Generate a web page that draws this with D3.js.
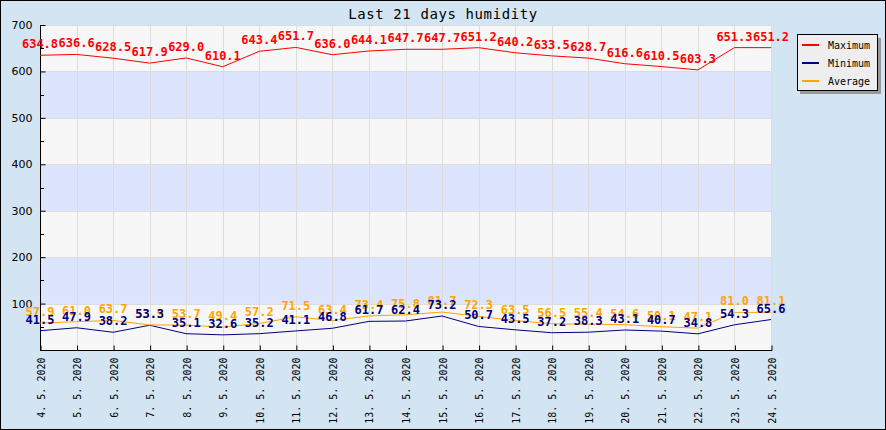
<!DOCTYPE html>
<html><head><meta charset="utf-8">
<script src="https://cdn.jsdelivr.net/npm/d3@7"></script>
<style>body{margin:0;background:#fff}svg{display:block}</style>
</head><body>
<svg id="c" width="886" height="430"></svg>
<script>
const dates = ["4. 5. 2020","5. 5. 2020","6. 5. 2020","7. 5. 2020","8. 5. 2020","9. 5. 2020","10. 5. 2020","11. 5. 2020","12. 5. 2020","13. 5. 2020","14. 5. 2020","15. 5. 2020","16. 5. 2020","17. 5. 2020","18. 5. 2020","19. 5. 2020","20. 5. 2020","21. 5. 2020","22. 5. 2020","23. 5. 2020","24. 5. 2020"];
const maximum = [634.8,636.6,628.5,617.9,629.0,610.1,643.4,651.7,636.0,644.1,647.7,647.7,651.2,640.2,633.5,628.7,616.6,610.5,603.3,651.3,651.2];
const minimum = [41.5,47.9,38.2,53.3,35.1,32.6,35.2,41.1,46.8,61.7,62.4,73.2,50.7,43.5,37.2,38.3,43.1,40.7,34.8,54.3,65.6];
const average = [57.9,61.0,63.7,53.9,53.7,49.4,57.2,71.5,63.4,73.4,75.8,81.7,72.3,63.5,56.5,55.4,54.6,50.1,47.1,81.0,81.1];
const yTicks = [100,200,300,400,500,600,700];
const seriesNames = ["Maximum","Minimum","Average"];
const seriesColors = ["#ff0000","#000080","#ffa500"];
const title = "Last 21 days humidity";

const W=886,H=430;
const L=40,R=771,T=25,B=350;
const svg=d3.select("#c");
svg.append("rect").attr("x",0.5).attr("y",0.5).attr("width",W-1).attr("height",H-1)
  .attr("fill","#d3e5f3").attr("stroke","#000");

const x=d3.scalePoint().domain(dates).range([L,R]);
const y=d3.scaleLinear().domain([0,700]).range([B,T]);

// bands
const bandEdges=[0,100,200,300,400,500,600,700];
const g=svg.append("g");
for(let i=0;i<bandEdges.length-1;i++){
  g.append("rect").attr("x",L).attr("width",R-L)
   .attr("y",y(bandEdges[i+1])).attr("height",y(bandEdges[i])-y(bandEdges[i+1]))
   .attr("fill", i%2===0?"#f7f7f7":"#dde4fe");
}
// grid
dates.forEach(d=>{
  g.append("line").attr("x1",Math.round(x(d))+0.5).attr("x2",Math.round(x(d))+0.5)
   .attr("y1",T).attr("y2",B).attr("stroke","#dcdcdc");
});
yTicks.forEach(v=>{
  g.append("line").attr("x1",L).attr("x2",R).attr("y1",Math.round(y(v))+0.5).attr("y2",Math.round(y(v))+0.5)
   .attr("stroke","#dcdcdc");
});

// axes
const yAxis=d3.axisLeft(y).tickValues(yTicks).tickSize(-5).tickPadding(8).tickFormat(d3.format("d"));
const ya=svg.append("g").attr("transform",`translate(${L+0.5},0)`).call(yAxis);
ya.select(".domain").remove();
ya.selectAll("text").attr("font-family","DejaVu Sans, sans-serif").attr("font-size",11).attr("fill","#000");
const yMinor=d3.range(50,700,100);
yMinor.forEach(v=>{
  svg.append("line").attr("x1",L).attr("x2",L+4).attr("y1",Math.round(y(v))+0.5).attr("y2",Math.round(y(v))+0.5).attr("stroke","#000");
});
const xAxis=d3.axisBottom(x).tickSize(-5).tickPadding(0);
const xa=svg.append("g").attr("transform",`translate(0.5,${B+0.5})`).call(xAxis);
xa.select(".domain").remove();
xa.selectAll("text").attr("font-family","DejaVu Sans Mono, monospace").attr("font-size",10).attr("fill","#000")
  .attr("text-anchor","end").attr("dy","0.35em").attr("transform","translate(0,7) rotate(-90)").attr("x",0).attr("y",0);
svg.append("line").attr("x1",L+0.5).attr("x2",L+0.5).attr("y1",T).attr("y2",B+1).attr("stroke","#000");
svg.append("line").attr("x1",L).attr("x2",R+1).attr("y1",B+0.5).attr("y2",B+0.5).attr("stroke","#000");

// lines
const allSeries=[maximum,minimum,average];
const line=d3.line().x((d,i)=>x(dates[i])).y(d=>y(d));
allSeries.forEach((s,k)=>{
  svg.append("path").datum(s).attr("d",line).attr("fill","none").attr("stroke",seriesColors[k]).attr("stroke-width",1);
});
// labels: max, avg, min (min on top)
[0,2,1].forEach(k=>{
  svg.append("g").selectAll("text").data(allSeries[k]).join("text")
   .attr("x",(d,i)=>x(dates[i])).attr("y",d=>y(d)-7)
   .attr("text-anchor","middle").attr("font-family","DejaVu Sans Mono, monospace")
   .attr("font-weight","bold").attr("font-size",12).attr("fill",seriesColors[k])
   .text(d=>d.toFixed(1));
});

// title
svg.append("text").attr("x",443).attr("y",19).attr("text-anchor","middle")
  .attr("font-family","DejaVu Sans Mono, monospace").attr("font-size",14).attr("letter-spacing",0.6)
  .attr("fill","#000").text(title);

// legend
const lg=svg.append("g");
lg.append("rect").attr("x",800).attr("y",38).attr("width",81).attr("height",56).attr("fill","#999");
lg.append("rect").attr("x",797.5).attr("y",34.5).attr("width",80).attr("height",56).attr("fill","#eeeeee").attr("stroke","#000");
seriesNames.forEach((n,i)=>{
  const yy=45+i*18;
  lg.append("line").attr("x1",802).attr("x2",819).attr("y1",yy).attr("y2",yy).attr("stroke",seriesColors[i]).attr("stroke-width",2);
  lg.append("text").attr("x",828).attr("y",yy).attr("dy","0.35em").attr("font-family","DejaVu Sans Mono, monospace")
    .attr("font-size",10).attr("fill","#000").text(n);
});
</script>
</body></html>
